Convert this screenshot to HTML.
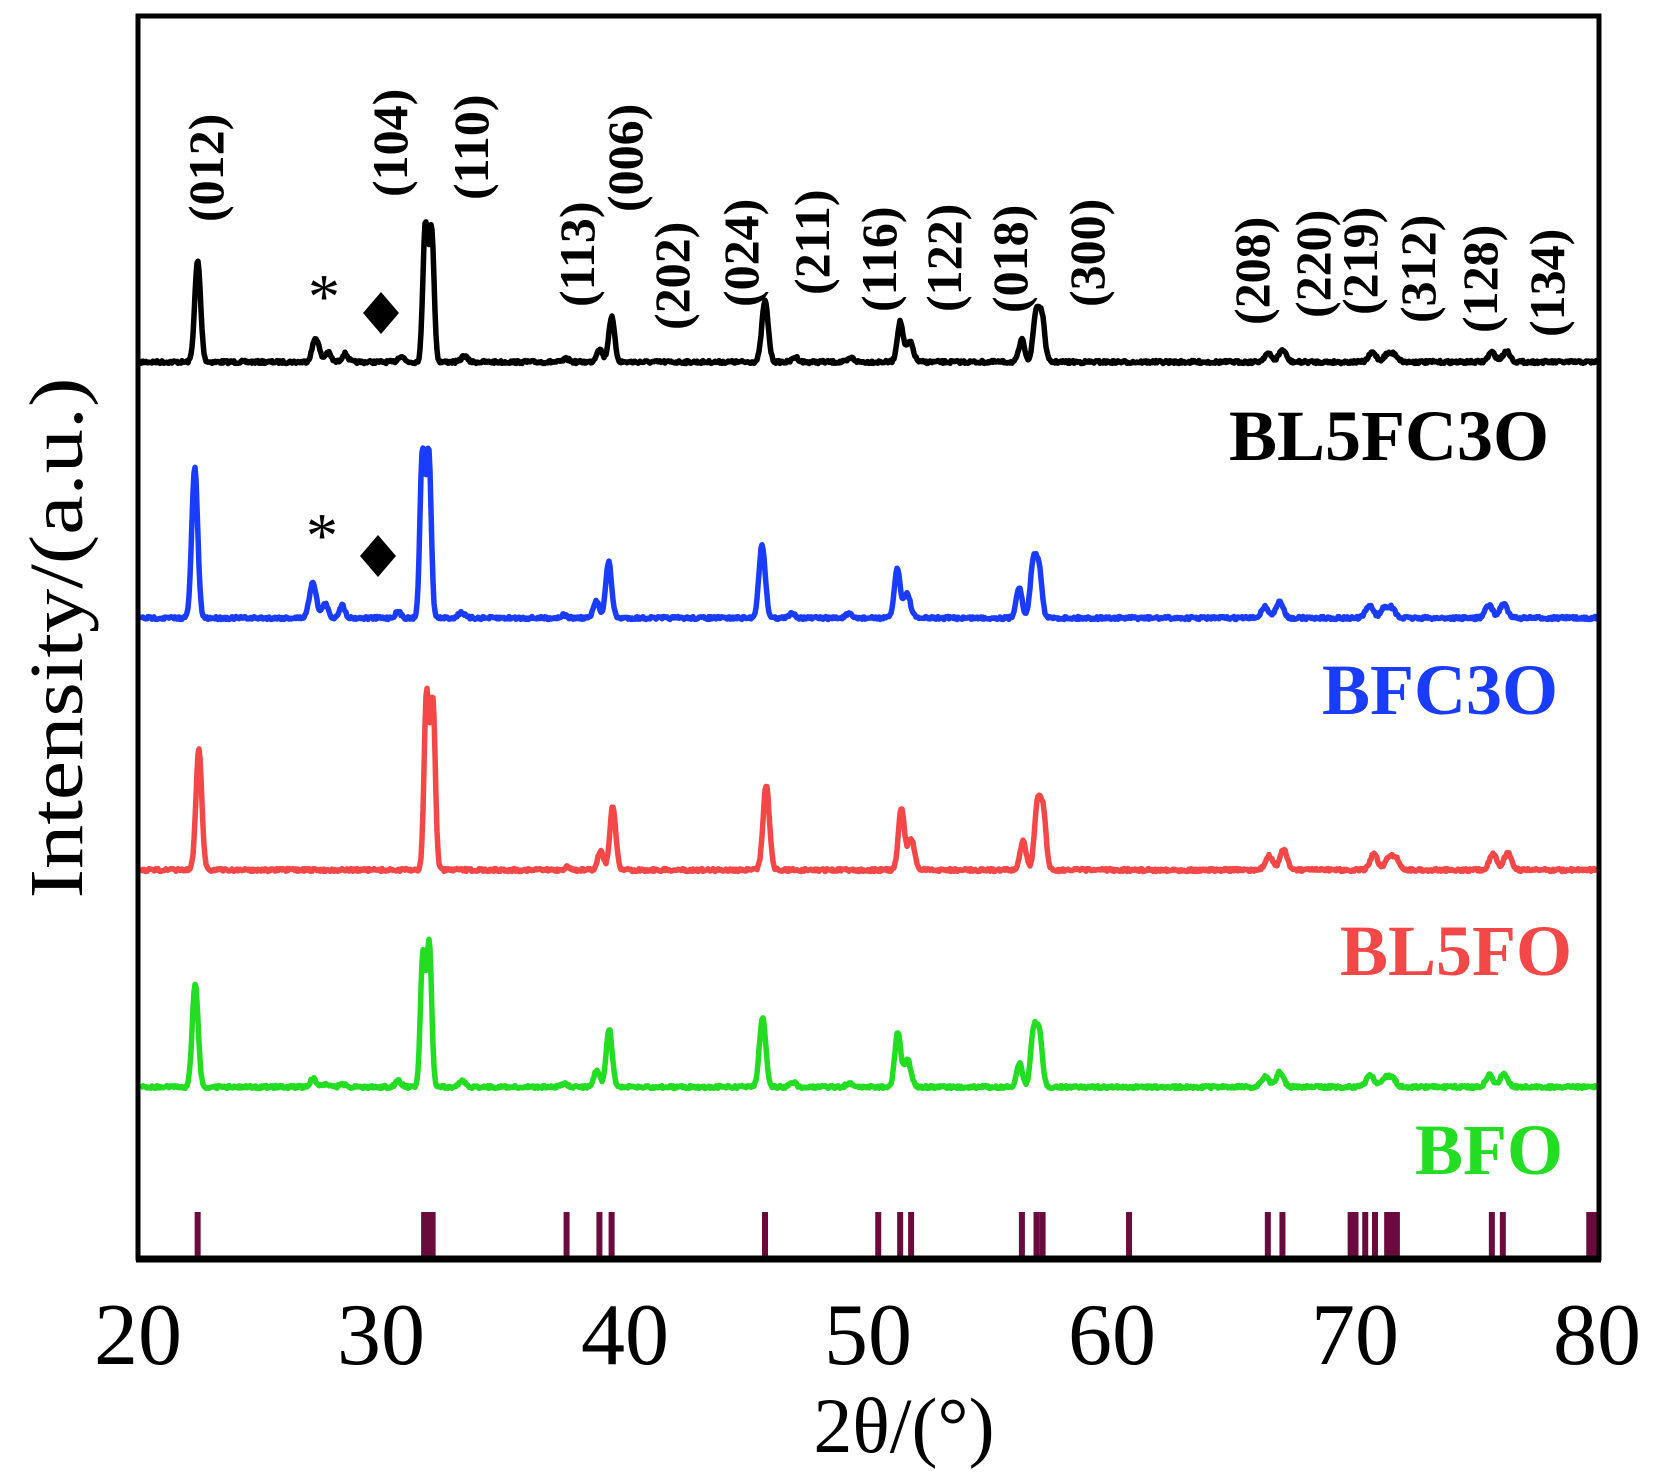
<!DOCTYPE html>
<html><head><meta charset="utf-8"><style>
html,body{margin:0;padding:0;background:#fff;}
svg{display:block;}
text{font-family:"Liberation Serif",serif;}
</style></head><body>
<svg id="s" width="1659" height="1479" viewBox="0 0 1659 1479" xmlns="http://www.w3.org/2000/svg" font-family="Liberation Serif, serif">
<g id="curves"></g>
<g id="bars" stroke="#6b0a3c" stroke-width="6"></g>
<rect x="138" y="16" width="1461" height="1242" fill="none" stroke="#000" stroke-width="5"/>
<line x1="136" y1="1259" x2="1601" y2="1259" stroke="#000" stroke-width="7"/>
<g font-size="88" fill="#000" text-anchor="middle">
<text x="138" y="1364">20</text><text x="381" y="1364">30</text><text x="625" y="1364">40</text>
<text x="868" y="1364">50</text><text x="1112" y="1364">60</text><text x="1355" y="1364">70</text><text x="1597" y="1364">80</text>
</g>
<text x="904" y="1452" font-size="78" text-anchor="middle">2θ/(°)</text>
<text transform="translate(82,638) rotate(-90)" font-size="76" text-anchor="middle" textLength="521" lengthAdjust="spacingAndGlyphs">Intensity/(a.u.)</text>
<g font-size="50" font-weight="bold" fill="#000">
<text transform="translate(223,222) rotate(-90)">(012)</text>
<text transform="translate(407,197) rotate(-90)">(104)</text>
<text transform="translate(488,200) rotate(-90)">(110)</text>
<text transform="translate(594,307) rotate(-90)">(113)</text>
<text transform="translate(642,212) rotate(-90)">(006)</text>
<text transform="translate(689,330) rotate(-90)">(202)</text>
<text transform="translate(758,307) rotate(-90)">(024)</text>
<text transform="translate(829,295) rotate(-90)">(211)</text>
<text transform="translate(896,312) rotate(-90)">(116)</text>
<text transform="translate(961,312) rotate(-90)">(122)</text>
<text transform="translate(1027,313) rotate(-90)">(018)</text>
<text transform="translate(1104,307) rotate(-90)">(300)</text>
<text transform="translate(1269,325) rotate(-90)">(208)</text>
<text transform="translate(1330,318) rotate(-90)">(220)</text>
<text transform="translate(1377,315) rotate(-90)">(219)</text>
<text transform="translate(1435,323) rotate(-90)">(312)</text>
<text transform="translate(1497,333) rotate(-90)">(128)</text>
<text transform="translate(1564,337) rotate(-90)">(134)</text>
</g>
<g font-size="64" fill="#000" text-anchor="middle">
<text x="324" y="318">*</text>
<text x="322" y="557">*</text>
</g>
<polygon points="381,292 399,313 381,334 363,313" fill="#000"/>
<polygon points="378,535 396,556 378,577 360,556" fill="#000"/>
<g font-size="72" font-weight="bold" text-anchor="end">
<text x="1549" y="460" fill="#000">BL5FC3O</text>
<text x="1558" y="714" fill="#1a3cff">BFC3O</text>
<text x="1572" y="975" fill="#f44848">BL5FO</text>
<text x="1563" y="1174" fill="#22dd22">BFO</text>
</g>
</svg>
<script>
(function(){
var NS="http://www.w3.org/2000/svg";
function X(d){return 138+(d-20)*24.35;}
var seed=7;function rnd(){seed=(seed*16807)%2147483647;return seed/2147483647;}
function curve(base,peaks,shift,color){
  var pts=[];
  for(var px=140;px<=1597;px+=1){
    var d=20+(px-138)/24.35, y=base+(rnd()-0.5)*3;
    for(var i=0;i<peaks.length;i++){var p=peaks[i],c=p[0]+shift,s=p[2]||0.12;var t=(d-c)/s;y-=p[1]*Math.exp(-0.5*t*t);}
    pts.push(px+","+y.toFixed(1));
  }
  var pl=document.createElementNS(NS,"polyline");
  pl.setAttribute("points",pts.join(" "));pl.setAttribute("fill","none");
  pl.setAttribute("stroke",color);pl.setAttribute("stroke-width","5.5");pl.setAttribute("stroke-linejoin","round");
  document.getElementById("curves").appendChild(pl);
}
function set(h012,h110a,h110b,h006,h024,h116,h300,h018,star,minor){
  var m=minor;
  var r=[[22.45,h012],[31.8,h110a*0.85,0.1],[32.06,h110b*0.85,0.1],[38.95,h006*0.3],[39.45,h006],[45.75,h024,0.13],
    [51.3,h116],[51.7,h116*0.5,0.14],[56.3,h018],[56.88,h300*0.8],[57.12,h300*0.75],
    [66.4,m*0.7,0.15],[67.0,m,0.15],[70.7,m*0.8,0.15],[71.3,m*0.6,0.15],[71.6,m*0.6,0.15],[75.6,m*0.8,0.15],[76.2,m*0.9,0.15],[37.6,3]];
  if(star){r.push([27.3,star,0.14],[27.8,star*0.4],[28.5,star*0.35],[30.8,6],[33.4,6],[47.0,5],[49.3,4]);}
  return r;
}
curve(362,set(101,162,155,45,61,40,59,22,24,12),0,"#000");
curve(618,set(151,195,195,56,73,49,67,31,36,16),-0.12,"#1a3cff");
curve(870,set(121,206,198,64,85,62,78,30,0,20),0.05,"#f44848");
curve(1087,set(104,155,167,58,69,55,68,24,8,15),-0.1,"#22dd22");
var bars=[22.45,31.75,31.95,32.1,37.6,38.95,39.45,45.75,50.4,51.3,51.75,56.3,56.9,57.15,60.7,66.4,67.0,69.8,70.0,70.4,70.8,71.3,71.5,71.7,75.6,76.05,79.6,79.8,80];
var g=document.getElementById("bars");
bars.forEach(function(d){var l=document.createElementNS(NS,"line");var x=Math.min(X(d),1596);
l.setAttribute("x1",x);l.setAttribute("x2",x);l.setAttribute("y1",1212);l.setAttribute("y2",1258);g.appendChild(l);});
})();
</script>
</body></html>
